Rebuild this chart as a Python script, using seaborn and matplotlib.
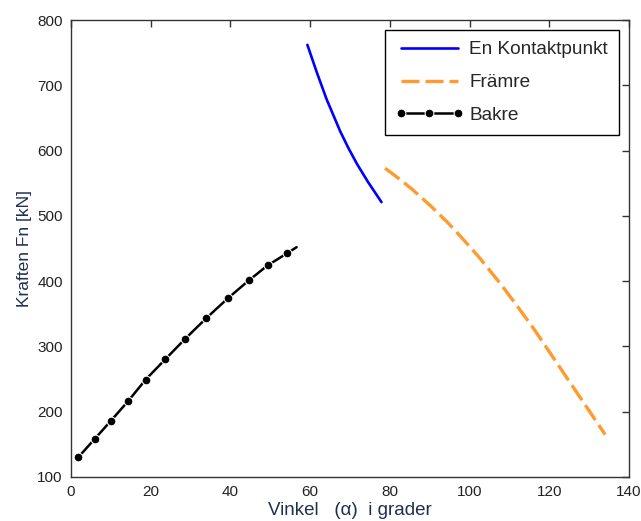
import matplotlib
matplotlib.use("Agg")
import matplotlib.pyplot as plt
import seaborn as sns

# values
kontakt_x = [59.3, 61.6, 64.1, 67.5, 69.5, 71.7, 74.5, 77.9]
kontakt_y = [762, 721, 679, 630, 605, 580, 552, 521]

framre_x = [78.8, 82.5, 85.9, 90.1, 94.3, 98.4, 102.6, 108.0, 111.8, 116.0, 120.2, 124.4, 128.5, 134.0]
framre_y = [573, 556, 539, 516, 491, 464, 435, 394, 363, 328, 290, 252, 215, 165]

bakre_x = [1.8, 5.9, 10.0, 14.3, 18.7, 23.6, 28.7, 33.9, 39.4, 44.6, 49.3, 54.3, 56.6]
bakre_y = [130, 158, 186, 216, 249, 280, 312, 343, 374, 401, 424, 443, 452]

sns.set_style("white")
plt.rcParams['font.family'] = ['Liberation Sans', 'DejaVu Sans']

fig = plt.figure(figsize=(6.41, 5.21), dpi=100)
ax = fig.add_axes([0.1108, 0.0845, 0.8705, 0.8771])

sns.lineplot(x=kontakt_x, y=kontakt_y, sort=False, color='#0000ff', lw=1.9,
             label='En Kontaktpunkt', ax=ax)
sns.lineplot(x=framre_x, y=framre_y, sort=False, color='#ff9a2e', lw=2.4,
             dashes=False, linestyle=(0, (5.4, 1.8)), label='Främre', ax=ax)
sns.lineplot(x=bakre_x, y=bakre_y, sort=False, color='black', lw=1.8,
             marker='o', markersize=6.3, markevery=list(range(len(bakre_x) - 1)),
             label='Bakre', ax=ax)

ax.set_xlim(0, 140)
ax.set_ylim(100, 800)
ax.set_xticks(range(0, 141, 20))
ax.set_yticks(range(100, 801, 100))
ax.tick_params(direction='in', length=5, width=1, color='#333333',
               labelsize=11, labelcolor='#222222', top=True, right=True, pad=6)
for sp in ax.spines.values():
    sp.set_color('#333333')
    sp.set_linewidth(1)

lab_col = '#1f2f4f'
ax.set_xlabel('Vinkel   (α)  i grader', fontsize=13.5, color=lab_col, labelpad=2)
ax.set_ylabel('Kraften Fn [kN]', fontsize=12.5, color=lab_col, labelpad=4)

leg = ax.legend(loc='upper right', numpoints=3, fontsize=13.7, handlelength=3.6,
                handletextpad=0.3, labelspacing=0.82, borderaxespad=0.55,
                fancybox=False, framealpha=1, edgecolor='black',
                borderpad=0.55)
leg.get_frame().set_linewidth(1)

fig.savefig('out.png', dpi=100)
